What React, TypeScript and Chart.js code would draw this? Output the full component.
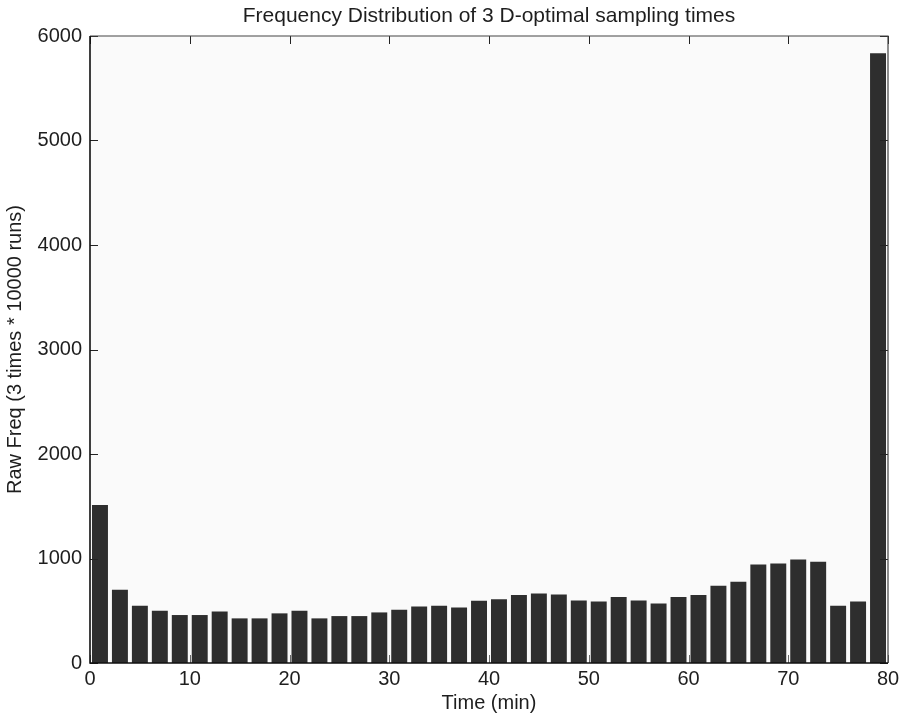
import React, { useEffect, useRef } from "react";
import { Chart, registerables } from "chart.js";

Chart.register(...registerables);

// Bin centres (minutes) and raw frequencies
const binCenters = [
  1, 3, 5, 7, 9, 11, 13, 15, 17, 19, 21, 23, 25, 27, 29, 31, 33, 35, 37, 39,
  41, 43, 45, 47, 49, 51, 53, 55, 57, 59, 61, 63, 65, 67, 69, 71, 73, 75, 77, 79,
];
const rawFreq = [
  1513, 700, 548, 500, 459, 459, 494, 427, 427, 475, 500, 427, 449, 449, 484,
  510, 541, 548, 532, 596, 611, 650, 666, 656, 599, 589, 631, 599, 570, 631,
  650, 739, 777, 943, 952, 990, 968, 548, 589, 5835,
];
const xTicks = [0, 10, 20, 30, 40, 50, 60, 70, 80];
const yTicks = [0, 1000, 2000, 3000, 4000, 5000, 6000];

const titleText = "Frequency Distribution of 3 D-optimal sampling times";
const xLabel = "Time (min)";
const yLabel = "Raw Freq (3 times * 10000 runs)";

const FONT = "'Liberation Sans', Arial, Helvetica, sans-serif";
const TEXT = "#1e1e1e";

const framePlugin = {
  id: "matlabFrame",
  beforeDatasetsDraw(chart: any) {
    const { ctx, chartArea: a } = chart;
    ctx.save();
    ctx.fillStyle = "#fafafa";
    ctx.fillRect(a.left, a.top, a.right - a.left, a.bottom - a.top);
    ctx.restore();
  },
  afterDatasetsDraw(chart: any) {
    const { ctx, chartArea: a, scales } = chart;
    const xs = scales.x;
    const ys = scales.y;
    const L = 8;
    ctx.save();
    ctx.lineWidth = 1;
    for (const v of xTicks) {
      const px = Math.round(xs.getPixelForValue(v)) + 0.5;
      ctx.strokeStyle = "#222";
      ctx.beginPath();
      ctx.moveTo(px, a.top);
      ctx.lineTo(px, a.top + L);
      ctx.stroke();
      ctx.strokeStyle = "#6a6a6a";
      ctx.beginPath();
      ctx.moveTo(px, a.bottom);
      ctx.lineTo(px, a.bottom - L);
      ctx.stroke();
    }
    ctx.strokeStyle = "#222";
    for (const v of yTicks) {
      const py = Math.round(ys.getPixelForValue(v)) + 0.5;
      ctx.beginPath();
      ctx.moveTo(a.left, py);
      ctx.lineTo(a.left + L, py);
      ctx.moveTo(a.right, py);
      ctx.lineTo(a.right - L, py);
      ctx.stroke();
    }
    ctx.strokeStyle = "#444";
    ctx.lineWidth = 1.2;
    ctx.beginPath();
    ctx.moveTo(a.left, a.top);
    ctx.lineTo(a.right, a.top);
    ctx.lineTo(a.right, a.bottom);
    ctx.stroke();
    ctx.strokeStyle = "#111";
    ctx.lineWidth = 1.6;
    ctx.beginPath();
    ctx.moveTo(a.left, a.top);
    ctx.lineTo(a.left, a.bottom);
    ctx.lineTo(a.right, a.bottom);
    ctx.stroke();
    ctx.restore();
  },
};

export default function App() {
  const canvasRef = useRef<HTMLCanvasElement | null>(null);

  useEffect(() => {
    const canvas = canvasRef.current;
    if (!canvas) return;
    const chart = new Chart(canvas, {
      type: "bar",
      data: {
        datasets: [
          {
            data: binCenters.map((x, i) => ({ x, y: rawFreq[i] })),
            backgroundColor: "#2e2e2e",
            borderWidth: 0,
            barPercentage: 0.8,
            categoryPercentage: 1.0,
          },
        ],
      },
      options: {
        responsive: false,
        maintainAspectRatio: false,
        devicePixelRatio: 1,
        animation: false,
        layout: { padding: { left: 0, right: 17, top: 0, bottom: 0 } },
        plugins: {
          legend: { display: false },
          tooltip: { enabled: false },
          title: {
            display: true,
            text: titleText,
            fullSize: false,
            color: TEXT,
            font: { family: FONT, size: 21, weight: "normal", lineHeight: 1 },
            padding: { top: 6, bottom: 9 },
          },
        },
        scales: {
          x: {
            type: "linear",
            min: 0,
            max: 80,
            offset: false,
            grid: { display: false, drawTicks: false },
            border: { display: false },
            ticks: {
              stepSize: 10,
              color: TEXT,
              padding: 6,
              maxRotation: 0,
              font: { family: FONT, size: 20, lineHeight: 1 },
              callback: (v: any) => String(v),
            },
            title: {
              display: true,
              text: xLabel,
              color: TEXT,
              font: { family: FONT, size: 20, lineHeight: 1 },
              padding: { top: 0, bottom: 4 },
            },
            afterFit(scale: any) {
              scale.height = 54;
              scale.paddingLeft = 0;
              scale.paddingRight = 0;
            },
          },
          y: {
            type: "linear",
            min: 0,
            max: 6000,
            grid: { display: false, drawTicks: false },
            border: { display: false },
            ticks: {
              stepSize: 1000,
              color: TEXT,
              padding: 8,
              font: { family: FONT, size: 20, lineHeight: 1 },
              callback: (v: any) => String(v),
            },
            title: {
              display: true,
              text: yLabel,
              color: TEXT,
              font: { family: FONT, size: 20, lineHeight: 1 },
              padding: { top: 5, bottom: 0 },
            },
            afterFit(scale: any) {
              scale.width = 90;
              scale.paddingTop = 0;
              scale.paddingBottom = 0;
            },
          },
        },
      },
      plugins: [framePlugin],
    });
    return () => chart.destroy();
  }, []);

  return (
    <div style={{ position: "absolute", left: 0, top: 0, width: 905, height: 717, background: "#ffffff" }}>
      <canvas ref={canvasRef} width={905} height={717} style={{ display: "block", width: 905, height: 717 }} />
    </div>
  );
}
